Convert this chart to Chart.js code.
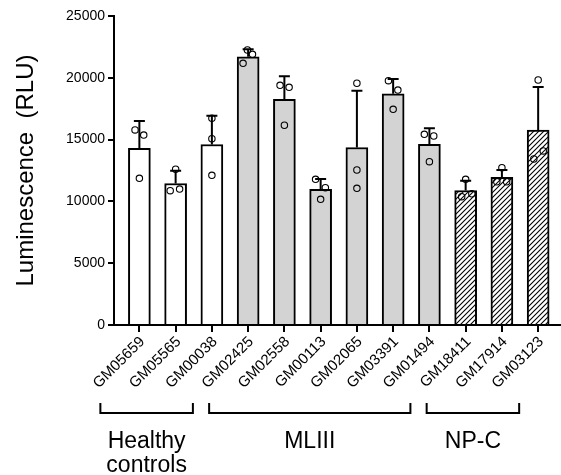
<!DOCTYPE html>
<html lang="en">
<head>
<meta charset="UTF-8">
<title>Luminescence (RLU)</title>
<script src="https://cdn.jsdelivr.net/npm/chart.js"></script>
<style>
  body { margin: 0; background: #fff; }
  #wrap { width: 561px; height: 475px; }
</style>
</head>
<body>
<div id="wrap"><canvas id="chart" width="561" height="475"></canvas></div>
<script>
// cell lines (x categories)
const cellLines = ['GM05659', 'GM05565', 'GM00038', 'GM02425', 'GM02558', 'GM00113',
                   'GM02065', 'GM03391', 'GM01494', 'GM18411', 'GM17914', 'GM03123'];

// mean and SD (only the upper whisker is drawn)
const meanRLU = [14300, 11450, 14600, 21700, 18250, 10980, 14360, 18700, 14620, 10880, 11950, 15770];
const sdRLU   = [2200, 1030, 2330, 600, 1870, 830, 4600, 1200, 1290, 800, 590, 3480];

// the three replicates
const rep1 = [15780, 12600, 16720, 22250, 19390, 11790, 19560, 19770, 15430, 11790, 12730, 19820];
const rep2 = [15370, 10870, 15070, 21900, 19230, 11110, 12540, 19010, 15290, 10380, 11590, 13430];
const rep3 = [11870, 11000, 12110, 21170, 16160, 10170, 11060, 17450, 13210, 10620, 11590, 14080];

// horizontal jitter of each replicate, in category units
const jitter1 = [-0.12, 0, 0, -0.02, -0.12, -0.14, 0, -0.13, -0.14, 0, 0, 0];
const jitter2 = [0.12, -0.15, 0, 0.12, 0.13, 0.13, 0, 0.13, 0.12, -0.11, -0.14, -0.12];
const jitter3 = [0, 0.11, 0, -0.14, 0, 0, 0, 0, 0, 0.17, 0.13, 0.14];

// groups under the axis
const groupLabels = [['Healthy', 'controls'], ['MLIII'], ['NP-C']];
const groupFirst = [0, 3, 9];
const groupLast = [2, 8, 11];

const FONT = 'Arial, "Liberation Sans", sans-serif';
Chart.defaults.font.family = FONT;
Chart.defaults.color = '#000';

function hatch() {
  const s = 5;
  const c = document.createElement('canvas');
  c.width = s; c.height = s;
  const g = c.getContext('2d');
  g.fillStyle = '#fff';
  g.fillRect(0, 0, s, s);
  g.strokeStyle = '#000';
  g.lineWidth = 1.1;
  g.beginPath();
  g.moveTo(0, s); g.lineTo(s, 0);
  g.moveTo(-1, 1); g.lineTo(1, -1);
  g.moveTo(s - 1, s + 1); g.lineTo(s + 1, s - 1);
  g.stroke();
  return g.createPattern(c, 'repeat');
}
const groupFills = ['#ffffff', '#d3d3d3', hatch()];

const barFill = cellLines.map((_, i) => {
  const g = groupFirst.findIndex((f, k) => i >= f && i <= groupLast[k]);
  return groupFills[g];
});

const points = [];
[[rep1, jitter1], [rep2, jitter2], [rep3, jitter3]].forEach(([rep, jit]) => {
  rep.forEach((v, i) => points.push({ x: i + jit[i], y: v }));
});

// let the x axis run to the right edge of the canvas
const fullWidthX = {
  id: 'fullWidthX',
  afterLayout(chart) {
    const x = chart.scales.x;
    x.right = chart.width;
    x.width = x.right - x.left;
    x.configure();
    chart.chartArea.right = chart.width;
    chart.chartArea.width = chart.chartArea.right - chart.chartArea.left;
  }
};

const errorBars = {
  id: 'errorBars',
  afterDatasetDraw(chart, args) {
    if (args.meta.type !== 'bar') return;
    const ctx = chart.ctx, y = chart.scales.y;
    ctx.save();
    ctx.strokeStyle = '#000';
    ctx.lineWidth = 2;
    args.meta.data.forEach((bar, i) => {
      const top = y.getPixelForValue(meanRLU[i] + sdRLU[i]);
      ctx.beginPath();
      ctx.moveTo(bar.x, bar.y);
      ctx.lineTo(bar.x, top);
      ctx.moveTo(bar.x - 5.5, top);
      ctx.lineTo(bar.x + 5.5, top);
      ctx.stroke();
    });
    ctx.restore();
  }
};

const groupBrackets = {
  id: 'groupBrackets',
  afterDraw(chart) {
    const ctx = chart.ctx, x = chart.scales.x;
    ctx.save();
    ctx.strokeStyle = '#000';
    ctx.lineWidth = 2;
    ctx.fillStyle = '#000';
    ctx.font = '23px ' + FONT;
    ctx.textAlign = 'center';
    ctx.textBaseline = 'alphabetic';
    groupLabels.forEach((lines, g) => {
      const x1 = x.getPixelForValue(groupFirst[g]) - 39;
      const x2 = x.getPixelForValue(groupLast[g]) - 19;
      const yb = 413;
      ctx.beginPath();
      ctx.moveTo(x1, yb - 10);
      ctx.lineTo(x1, yb);
      ctx.lineTo(x2, yb);
      ctx.lineTo(x2, yb - 10);
      ctx.stroke();
      lines.forEach((t, k) => ctx.fillText(t, (x1 + x2) / 2, 448 + k * 24));
    });
    ctx.restore();
  }
};

new Chart(document.getElementById('chart'), {
  type: 'bar',
  data: {
    datasets: [{
      type: 'bar',
      order: 2,
      data: meanRLU.map((v, i) => ({ x: i, y: v })),
      backgroundColor: barFill,
      borderColor: '#000',
      borderWidth: 2,
      borderSkipped: 'start',
      barThickness: 22
    }, {
      type: 'scatter',
      order: 1,
      data: points,
      pointStyle: 'circle',
      pointRadius: 3.2,
      borderWidth: 1.1,
      borderColor: '#000',
      backgroundColor: 'rgba(0,0,0,0)'
    }]
  },
  options: {
    responsive: false,
    animation: false,
    layout: { padding: { top: 16, right: 0, left: 0, bottom: 0 } },
    plugins: { legend: { display: false }, tooltip: { enabled: false } },
    scales: {
      x: {
        type: 'linear',
        offset: false,
        min: -0.70,
        max: 11.63,
        afterBuildTicks(s) { s.ticks = cellLines.map((_, i) => ({ value: i })); },
        afterFit(s) { s.height = 150; },
        ticks: {
          autoSkip: false,
          minRotation: 45,
          maxRotation: 45,
          padding: 1,
          labelOffset: 3,
          font: { size: 15 },
          callback: v => cellLines[v]
        },
        grid: { offset: false, drawOnChartArea: false, drawTicks: true, tickLength: 7, color: '#000', lineWidth: 2 },
        border: { color: '#000', width: 2 }
      },
      y: {
        min: 0,
        max: 25000,
        afterFit(s) { s.width = 114; },
        ticks: { stepSize: 5000, padding: 3, font: { size: 14 }, callback: v => String(v) },
        grid: { drawOnChartArea: false, drawTicks: true, tickLength: 6, color: '#000', lineWidth: 2 },
        border: { color: '#000', width: 2 },
        title: { display: true, text: 'Luminescence  (RLU)', font: { size: 24 }, padding: { top: 12 } }
      }
    }
  },
  plugins: [fullWidthX, errorBars, groupBrackets]
});
</script>
</body>
</html>
